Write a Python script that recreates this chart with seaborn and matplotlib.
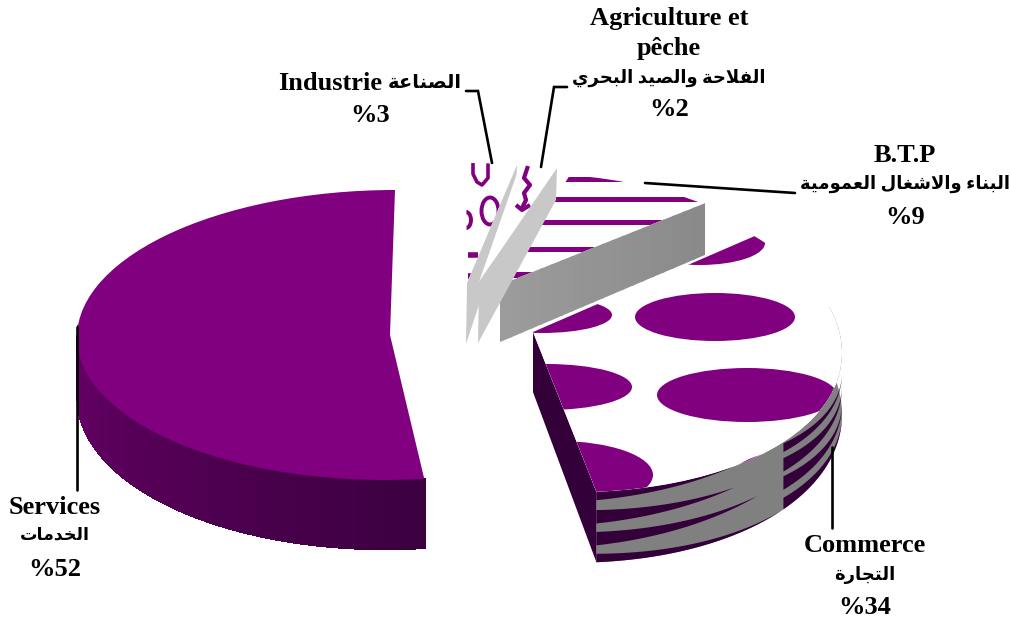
import numpy as np
import matplotlib
matplotlib.use("Agg")
import matplotlib.pyplot as plt
import seaborn as sns
from matplotlib.patches import Ellipse
from matplotlib.transforms import Affine2D

# ----------------------
# Data
# ----------------------
sectors = ["Services", "Commerce", "B.T.P", "Agriculture", "Industrie"]
shares = [52, 34, 9, 2, 3]
arabic_labels = ["الخدمات", "التجارة", "البناء والاشغال العمومية",
                 "الفلاحة والصيد البحري", "الصناعة"]

PURPLE = "#800080"
DARK = "#33003a"
GREY = "#808080"
LIGHT = "#c8c8c8"
SERIF = ["Liberation Serif", "DejaVu Sans"]


# matplotlib does no arabic shaping, so pick the presentation forms by hand
AR_FORMS = {"ا": (0xFE8D, 2), "ب": (0xFE8F, 4), "ة": (0xFE93, 2), "ت": (0xFE95, 4),
            "ج": (0xFE9D, 4), "ح": (0xFEA1, 4), "خ": (0xFEA5, 4), "د": (0xFEA9, 2),
            "ر": (0xFEAD, 2), "ش": (0xFEB5, 4), "ص": (0xFEB9, 4), "ع": (0xFEC9, 4),
            "غ": (0xFECD, 4), "ف": (0xFED1, 4), "ل": (0xFEDD, 4), "م": (0xFEE1, 4),
            "ن": (0xFEE5, 4), "و": (0xFEED, 2), "ي": (0xFEF1, 4), "ء": (0xFE80, 1)}


def shape_ar(text):
    out = []
    chars = list(text.replace("لا", "\ufefb"))
    for i, ch in enumerate(chars):
        prev = chars[i - 1] if i > 0 else " "
        nxt = chars[i + 1] if i + 1 < len(chars) else " "
        joins_prev = prev in AR_FORMS and AR_FORMS[prev][1] == 4
        joins_next = nxt == "\ufefb" or (nxt in AR_FORMS and AR_FORMS[nxt][1] > 1)
        if ch == "\ufefb":
            out.append("\ufefc" if joins_prev else ch)
        elif ch in AR_FORMS:
            base, n = AR_FORMS[ch]
            if n == 1:
                out.append(chr(base))
            elif n == 2:
                out.append(chr(base + 1 if joins_prev else base))
            elif joins_prev and joins_next:
                out.append(chr(base + 3))
            elif joins_prev:
                out.append(chr(base + 1))
            elif joins_next:
                out.append(chr(base + 2))
            else:
                out.append(chr(base))
        else:
            out.append(ch)
    return "".join(reversed(out))


def fit(apex, t1, p1, t2, p2):
    # linear map of the unit circle so that both wedge edges land on p1, p2
    e = np.array([[np.cos(np.radians(t1)), np.cos(np.radians(t2))],
                  [np.sin(np.radians(t1)), np.sin(np.radians(t2))]])
    v = np.array([[p1[0] - apex[0], p2[0] - apex[0]],
                  [p1[1] - apex[1], p2[1] - apex[1]]])
    return np.array(apex, float), v @ np.linalg.inv(e)


def arc(geom, theta):
    c, m = geom
    t = np.radians(theta)
    return c[0] + m[0, 0] * np.cos(t) + m[0, 1] * np.sin(t), c[1] + m[1, 0] * np.cos(t) + m[1, 1] * np.sin(t)


def height(y):
    return 60 + 0.065 * (y - 330)


sns.set_theme(style="white")
fig = plt.figure(figsize=(10.1, 6.2), dpi=100)
ax = fig.add_axes([0, 0, 1, 1])

# top faces: the pie gives the angles, each slice then gets its own placement
wedges, _ = ax.pie(shares, startangle=90, counterclock=True,
                   colors=[PURPLE, "white", "white", "white", "white"],
                   wedgeprops={"linewidth": 0})
ax.set_aspect("auto")
ax.set_xlim(0, 1010)
ax.set_ylim(620, 0)
ax.axis("off")
w_services, w_commerce, w_btp, w_agri, w_indus = wedges

g_services = (np.array([390.0, 335.0]), np.array([[313.0, 5.0], [0.0, -145.0]]))
g_commerce = (np.array([533.0, 332.0]), np.array([[308.0, -25.0], [8.0, -160.0]]))
g_btp = fit((500, 285), w_btp.theta1, (703, 204), w_btp.theta2, (570, 175))
g_agri = fit((479, 282), w_agri.theta1, (557, 168), w_agri.theta2, (520, 165))
g_indus = fit((467, 283), w_indus.theta1, (517, 165), w_indus.theta2, (466, 163))

placed = [(w_indus, g_indus, 3), (w_agri, g_agri, 5), (w_btp, g_btp, 2),
          (w_services, g_services, 10), (w_commerce, g_commerce, 20)]
for w, (c, m), z in placed:
    w.set_transform(Affine2D.from_values(m[0, 0], m[1, 0], m[0, 1], m[1, 1], c[0], c[1]) + ax.transData)
    w.set_zorder(z)


def clipped(artist, wedge, z):
    artist.set_clip_path(wedge)
    artist.set_zorder(z)


# ----------------------
# Services wall
# ----------------------
n = 240
edges = np.linspace(176, w_services.theta2, n + 1)
ramp = sns.blend_palette(["#680068", "#3c0040"], n)
for i in range(n):
    t = np.linspace(edges[i], edges[i + 1] + 0.15, 3)
    x, y = arc(g_services, t)
    h = height(y)
    ax.fill(np.r_[x, x[::-1]], np.r_[y, (y + h)[::-1]], color=ramp[i], lw=0, zorder=9, antialiased=False)

# ----------------------
# Commerce walls, cut side and striped rim
# ----------------------
tc1 = w_commerce.theta1
px, py = arc(g_commerce, tc1)
ax.fill([533, px, px, 533], [332, py, py + height(py), 332 + height(332)], color=DARK, lw=0, zorder=19)

t = np.linspace(tc1, 372, 90)
x, y = arc(g_commerce, t)
ax.fill(np.r_[x, x[::-1]], np.r_[y, (y + height(y))[::-1]], color=GREY, lw=0, zorder=18)

rim_bands = [(tc1, 306, 0.00, 0.12, 0.00), (tc1, 306, 0.26, 0.45, 0.31),
             (tc1, 312, 0.57, 0.76, 0.58), (tc1, 319, 0.88, 1.00, 1.00),
             (319.5, 358, 0.02, 0.15, 0.34), (319.5, 358, 0.24, 0.44, 0.56),
             (319.5, 358, 0.51, 0.71, 0.84), (319.5, 358, 0.83, 1.00, 1.00)]
for t0, t1, ftop, fbot, fend in rim_bands:
    t = np.linspace(t0, t1, 40)
    x, y = arc(g_commerce, t)
    h = height(y)
    top = y + h * np.linspace(ftop, fend, 40)
    bot = y + h * np.linspace(fbot, fend, 40)
    ax.fill(np.r_[x, x[::-1]], np.r_[top, bot[::-1]], color=DARK, lw=0, zorder=19)

# dotted pattern on the commerce top
blobs = [(715, 317, 80, 24), (747, 395, 90, 27), (547, 387, 85, 23), (542, 315, 70, 18),
         (700, 243, 65, 22), (558, 475, 95, 34), (812, 482, 85, 34)]
for bx, by, rx, ry in blobs:
    e = Ellipse((bx, by), 2 * rx, 2 * ry, fc=PURPLE, ec="none")
    ax.add_patch(e)
    clipped(e, w_commerce, 21)

# ----------------------
# B.T.P wall and stripes
# ----------------------
apex = g_btp[0]
fx, fy = arc(g_btp, w_btp.theta1)
n = 20
shade = sns.blend_palette(["#9c9c9c", "#8a8a8a"], n)
for i in range(n):
    a, b = i / n, (i + 1.2) / n
    xa, ya = apex[0] + a * (fx - apex[0]), apex[1] + a * (fy - apex[1])
    xb, yb = apex[0] + b * (fx - apex[0]), apex[1] + b * (fy - apex[1])
    ax.fill([xa, xb, xb, xa], [ya, yb, yb + height(yb), ya + height(ya)], color=shade[i], lw=0, zorder=4)

for y0, y1 in [(177, 182), (197, 202), (220, 225), (247, 252), (272, 278)]:
    clipped(ax.axhspan(y0, y1, fc=PURPLE, ec="none"), w_btp, 2.5)

# ----------------------
# Agriculture / Industrie slivers
# ----------------------
for w, g, z, far_h in [(w_indus, g_indus, 4, 28), (w_agri, g_agri, 6, 32)]:
    c = g[0]
    fx, fy = arc(g, w.theta1)
    ax.fill([c[0], fx, fx - 1, c[0] - 1], [c[1], fy, fy + far_h, c[1] + 61], color=LIGHT, lw=0, zorder=z)

indus_marks = [([473, 473, 477, 482, 488, 488], [163, 174, 182, 185, 178, 163], 2.6),
               ([468, 478], [255, 255], 4), ([468, 478], [276, 276], 4),
               ([495, 507], [241, 241], 2), ([503, 520], [221, 221], 2)]
for mx, my, lw in indus_marks:
    ln, = ax.plot(mx, my, color=PURPLE, lw=lw, solid_capstyle="butt")
    clipped(ln, w_indus, 3.5)
for bx, by, rx, ry in [(490, 211, 17, 27), (466, 220, 10, 16)]:
    e = Ellipse((bx, by), rx, ry, fc="none", ec=PURPLE, lw=2.8)
    ax.add_patch(e)
    clipped(e, w_indus, 3.5)
for mx, my in [([528, 524, 530, 524, 526, 522], [166, 178, 185, 193, 200, 208]),
               ([516, 522, 530], [205, 210, 205])]:
    ln, = ax.plot(mx, my, color=PURPLE, lw=3, solid_capstyle="butt")
    clipped(ln, w_agri, 5.5)

# ----------------------
# Leader lines
# ----------------------
leaders = [([77, 77], [327, 490]), ([832, 832], [447, 528]), ([645, 795], [183, 193]),
           ([492, 478, 466], [163, 91, 91]), ([541, 554, 567], [167, 87, 87])]
for lx, ly in leaders:
    ax.plot(lx, ly, color="black", lw=1.9, zorder=30, solid_joinstyle="miter")


# ----------------------
# Labels
# ----------------------
def latin(x, y, s, ha="center"):
    ax.text(x, y, s, ha=ha, va="center", family=SERIF, weight="bold", fontsize=19, color="black", zorder=31)


def arabic(x, y, s, size, ha="center"):
    ax.text(x, y, shape_ar(s), ha=ha, va="center", family=SERIF, weight="bold", fontsize=size, color="black", zorder=31)


latin(669, 18, "Agriculture et")
latin(669, 48, "pêche")
arabic(669, 78, arabic_labels[3], 13)
latin(669, 110, "%" + str(shares[3]))

latin(278, 84, sectors[4], ha="left")
arabic(462, 83, arabic_labels[4], 14, ha="right")
latin(370, 115, "%" + str(shares[4]))

latin(905, 155, sectors[2])
arabic(905, 184, arabic_labels[2], 13)
latin(905, 217, "%" + str(shares[2]))

latin(55, 507, sectors[0])
arabic(55, 536, arabic_labels[0], 12.5)
latin(55, 569, "%" + str(shares[0]))

latin(865, 546, sectors[1])
arabic(865, 575, arabic_labels[1], 13)
latin(865, 608, "%" + str(shares[1]))

fig.savefig("out.png", dpi=100)
